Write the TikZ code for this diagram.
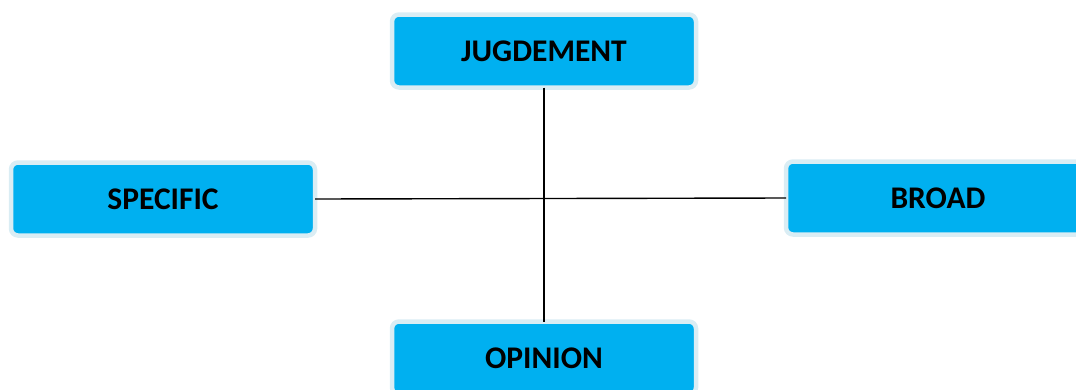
\documentclass[tikz,border=0pt]{standalone}
\usepackage{fontspec}
\setmainfont{Carlito}
\definecolor{boxfill}{RGB}{0,176,240}
\definecolor{boxrim}{RGB}{218,237,244}
\begin{document}
\begin{tikzpicture}[x=1pt,y=-1pt,
  termbox/.style={draw=boxrim, line width=4.5pt, fill=boxfill, rounded corners=7pt,
    minimum width=304pt, minimum height=73pt, inner sep=0pt, outer sep=0pt,
    font=\fontsize{31.5}{36}\selectfont\bfseries, text=black},
  link/.style={draw=black, line width=1.4pt}]
  \useasboundingbox (0,0) rectangle (1076,389);
  \begin{scope}
    \clip (0,0) rectangle (1076,389);
    \node[termbox] (judg) at (544,51) {JUGDEMENT};
    \node[termbox] (spec) at (163,199) {SPECIFIC};
    \node[termbox] (broad) at (938,198) {BROAD};
    \node[termbox] (opin) at (544,358) {OPINION};
    \draw[link] (judg.south) -- (opin.north);
    \draw[link] (spec.east) -- (broad.west);
  \end{scope}
\end{tikzpicture}
\end{document}
